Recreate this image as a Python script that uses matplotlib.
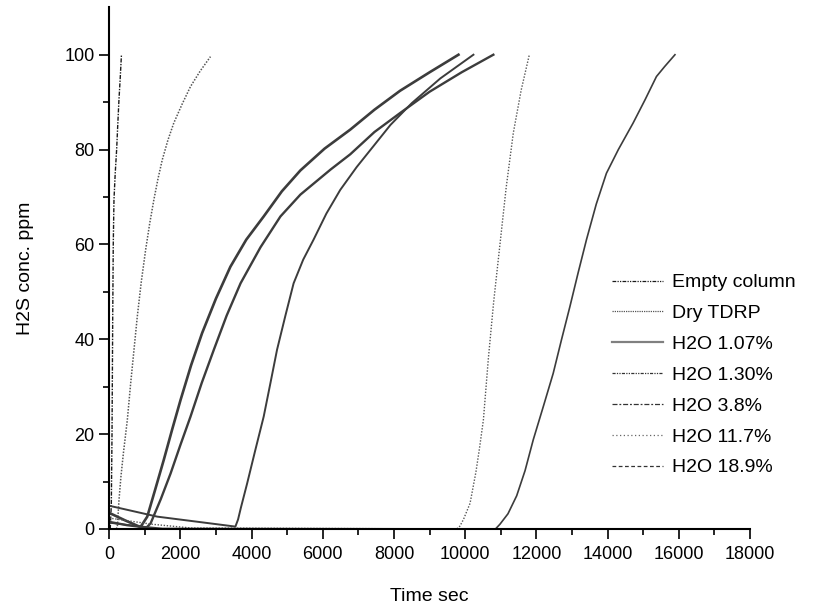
import matplotlib

matplotlib.use("Agg")
import matplotlib.pyplot as plt
from matplotlib.lines import Line2D
from matplotlib.ticker import MultipleLocator

plt.rcParams["font.family"] = ["Liberation Sans", "DejaVu Sans"]

# breakthrough curves: time (s) vs H2S (ppm)
empty_t = [30, 60, 80, 100, 115, 135, 170, 210, 240, 275, 310, 345]
empty_c = [0, 5, 20, 45, 60, 69.4, 75, 80, 85, 90.5, 95, 100]

dry_t = [200, 230, 275, 330, 400, 510, 605, 700, 790, 900, 1025, 1140, 1255,
         1370, 1490, 1650, 1815, 2050, 2285, 2560, 2845]
dry_c = [0, 0.5, 6, 11, 16, 23, 30.8, 38, 44.8, 52, 58.9, 64.5, 69.4,
         73.8, 77.8, 82, 85.6, 89.6, 93.3, 96.6, 99.6]

h107_t = [0, 450, 880, 1070, 1300, 1535, 1770, 2005, 2300, 2610, 3000, 3405,
          3850, 4340, 4850, 5370, 6050, 6770, 7450, 8170, 9000, 9810]
h107_c = [3.4, 1.8, 0.4, 2.6, 8.5, 14.6, 21.0, 27.2, 34.5, 41.3, 48.6, 55.3,
          61.0, 65.9, 71.2, 75.6, 80.2, 84.2, 88.4, 92.4, 96.3, 100]

h130_t = [0, 500, 1050, 1165, 1450, 1725, 2000, 2285, 2600, 2940, 3300, 3690,
          4250, 4810, 5370, 6220, 6770, 7450, 8170, 9000, 9900, 10790]
h130_c = [1.5, 0.8, 0.3, 1.2, 6.3, 11.7, 17.7, 23.7, 30.8, 37.8, 45.0, 51.8,
          59.4, 65.9, 70.5, 75.8, 79.0, 83.7, 87.7, 92.2, 96.3, 100]

h38_t = [0, 1350, 2500, 3545, 3620, 3700, 3875, 4100, 4340, 4530, 4715, 4950,
         5180, 5450, 5740, 6100, 6490, 6950, 7420, 7900, 8500, 9300, 10230]
h38_c = [4.9, 2.6, 1.5, 0.5, 2.0, 4.5, 9.6, 16.5, 23.7, 30.8, 37.8, 45.0,
         51.8, 56.8, 61.0, 66.5, 71.5, 76.3, 80.7, 85.2, 89.8, 95.0, 100]

h117_t = [0, 1200, 2300, 9760, 9850, 9950, 10135, 10300, 10400, 10510, 10650,
          10800, 10975, 11150, 11350, 11570, 11800]
h117_c = [2.3, 1.0, 0.2, 0, 0.6, 2.0, 5.4, 12, 17, 23, 36, 48, 60, 72, 83.5, 92.5, 100]

h189_t = [0, 800, 1500, 10850, 10975, 11200, 11445, 11680, 11910, 12200, 12470,
          12700, 12940, 13170, 13405, 13680, 13965, 14300, 14715, 15050, 15370,
          15600, 15890]
h189_c = [1.3, 0.6, 0.1, 0, 1.0, 3.2, 7.0, 12.3, 18.8, 26, 32.8, 39.8, 46.9,
          54, 61, 68.5, 75, 80, 85.6, 90.5, 95.4, 97.5, 100]

labels = ["Empty column", "Dry TDRP", "H2O 1.07%", "H2O 1.30%",
          "H2O 3.8%", "H2O 11.7%", "H2O 18.9%"]

dark = "#3c3c3c"

fig = plt.figure(figsize=(8.27, 6.08), dpi=100)
ax = fig.add_axes([0.132, 0.13, 0.775, 0.858])

ax.plot(empty_t, empty_c, color="#1a1a1a", lw=1.0, dashes=(3, 1, 1, 1))
ax.plot(dry_t, dry_c, color="#555555", lw=1.1, dashes=(1, 1))
ax.plot(h107_t, h107_c, color=dark, lw=1.9)
ax.plot(h130_t, h130_c, color=dark, lw=1.7)
ax.plot(h38_t, h38_c, color=dark, lw=1.4)
ax.plot(h117_t, h117_c, color="#555555", lw=1.0, dashes=(1, 1.2))
ax.plot(h189_t, h189_c, color=dark, lw=1.2)

ax.set_xlim(0, 18000)
ax.set_ylim(0, 110)
ax.xaxis.set_major_locator(MultipleLocator(2000))
ax.xaxis.set_minor_locator(MultipleLocator(1000))
ax.set_yticks([0, 20, 40, 60, 80, 100])
ax.set_yticks(list(range(10, 110, 20)), minor=True)

for side in ("top", "right"):
    ax.spines[side].set_visible(False)
for side in ("left", "bottom"):
    ax.spines[side].set_linewidth(1.5)
ax.tick_params(which="major", direction="out", length=7, width=1.2, labelsize=13)
ax.tick_params(axis="x", which="major", pad=5)
ax.tick_params(which="minor", direction="out", length=4, width=1.2)

ax.set_xlabel("Time sec", fontsize=14, labelpad=18)
ax.set_ylabel("H2S conc. ppm", fontsize=14, labelpad=22)

handles = [
    Line2D([], [], color="#1a1a1a", lw=0.9, dashes=(3, 1, 1, 1, 1, 1)),
    Line2D([], [], color="#555555", lw=0.9, dashes=(1, 0.8)),
    Line2D([], [], color="#808080", lw=1.6),
    Line2D([], [], color="#333333", lw=0.9, dashes=(2.5, 1, 1, 1, 1, 1)),
    Line2D([], [], color="#333333", lw=0.9, dashes=(4, 1.5, 1.5, 1.5)),
    Line2D([], [], color="#666666", lw=0.9, dashes=(1, 2)),
    Line2D([], [], color="#333333", lw=0.9, dashes=(3, 2)),
]
fig.legend(handles, labels, loc="center left", bbox_to_anchor=(0.740, 0.383),
           frameon=False, fontsize=14, handlelength=2.6, handletextpad=0.5,
           labelspacing=0.68, borderpad=0, borderaxespad=0)

fig.savefig("out.png", dpi=100)
